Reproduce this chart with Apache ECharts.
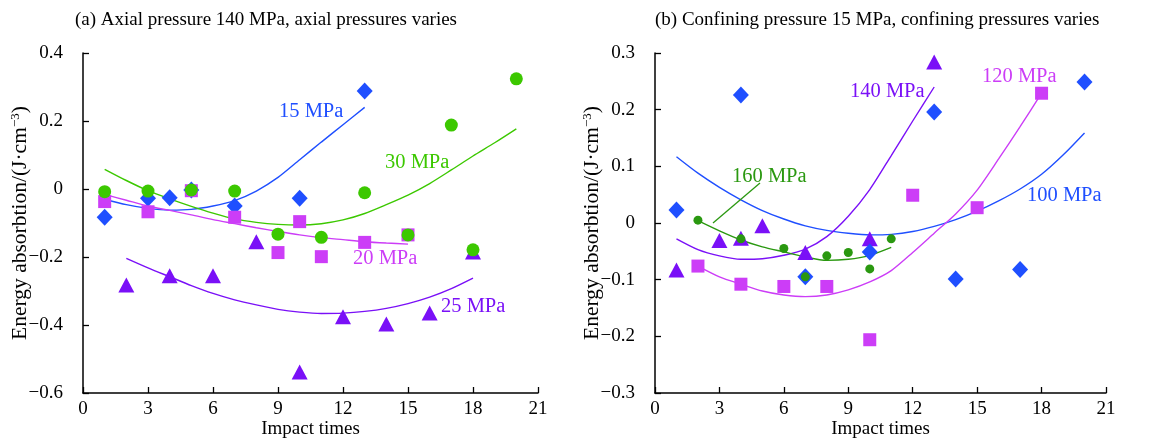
<!DOCTYPE html>
<html>
<head>
<meta charset="utf-8">
<script src="https://cdn.jsdelivr.net/npm/echarts@6/dist/echarts.min.js"></script>
<style>
  html, body { margin: 0; padding: 0; background: #fff; }
  #chart { width: 1160px; height: 440px; }
</style>
</head>
<body>
<div id="chart"></div>
<script>
// ---------- Panel (a): confining pressure varies ----------
const a15x = [1, 3, 4, 5, 7, 10, 13];
const a15y = [-0.083, -0.027, -0.026, -0.003, -0.050, -0.027, 0.288];
const a20x = [1, 3, 5, 7, 9, 10, 11, 13, 15];
const a20y = [-0.037, -0.067, -0.005, -0.083, -0.187, -0.096, -0.199, -0.157, -0.135];
const a25x = [2, 4, 6, 8, 10, 12, 14, 16, 18];
const a25y = [-0.282, -0.255, -0.255, -0.155, -0.538, -0.376, -0.397, -0.365, -0.185];
const a30x = [1, 3, 5, 7, 9, 11, 13, 15, 17, 18, 20];
const a30y = [-0.008, -0.006, -0.003, -0.006, -0.133, -0.142, -0.011, -0.135, 0.188, -0.179, 0.324];

// fitted trend curves, panel (a)
const fa15x = [1, 2, 3, 4, 5, 6, 7, 8, 9, 10, 11, 12, 13];
const fa15y = [-0.030, -0.046, -0.057, -0.062, -0.060, -0.050, -0.034, -0.006, 0.034, 0.086, 0.138, 0.189, 0.240];
const fa20x = [1, 2, 3, 4, 5, 6, 7, 8, 9, 10, 11, 12, 13, 14, 15];
const fa20y = [-0.016, -0.033, -0.050, -0.063, -0.076, -0.090, -0.102, -0.114, -0.125, -0.135, -0.143, -0.149, -0.155, -0.159, -0.162];
const fa25x = [2, 3, 4, 5, 6, 7, 8, 9, 10, 11, 12, 13, 14, 15, 16, 17, 18];
const fa25y = [-0.204, -0.232, -0.258, -0.284, -0.307, -0.326, -0.341, -0.354, -0.362, -0.366, -0.365, -0.360, -0.351, -0.337, -0.318, -0.293, -0.262];
const fa30x = [1, 2, 3, 4, 5, 6, 7, 8, 9, 10, 11, 12, 13, 14, 15, 16, 17, 18, 19, 20];
const fa30y = [0.058, 0.025, -0.005, -0.029, -0.051, -0.071, -0.088, -0.098, -0.104, -0.106, -0.102, -0.091, -0.072, -0.046, -0.018, 0.016, 0.056, 0.097, 0.136, 0.177];

// ---------- Panel (b): axial pressure varies ----------
const b100x = [1, 4, 7, 10, 13, 14, 17, 20];
const b100y = [0.023, 0.226, -0.095, -0.051, 0.196, -0.099, -0.082, 0.249];
const b120x = [2, 4, 6, 8, 10, 12, 15, 18];
const b120y = [-0.076, -0.108, -0.112, -0.112, -0.206, 0.049, 0.027, 0.229];
const b140x = [1, 3, 4, 5, 7, 10, 13];
const b140y = [-0.083, -0.031, -0.027, -0.005, -0.052, -0.028, 0.284];
const b160x = [2, 4, 6, 7, 8, 9, 10, 11];
const b160y = [0.005, -0.028, -0.045, -0.095, -0.058, -0.052, -0.081, -0.028];

// fitted trend curves, panel (b)
const fb100x = [1, 2, 3, 4, 5, 6, 7, 8, 9, 10, 11, 12, 13, 14, 15, 16, 17, 18, 19, 20];
const fb100y = [0.117, 0.088, 0.063, 0.041, 0.022, 0.007, -0.005, -0.013, -0.018, -0.021, -0.020, -0.015, -0.006, 0.006, 0.021, 0.039, 0.060, 0.086, 0.120, 0.159];
const fb120x = [2, 3, 4, 5, 6, 7, 8, 9, 10, 11, 12, 13, 14, 15, 16, 17, 18];
const fb120y = [-0.076, -0.095, -0.108, -0.120, -0.127, -0.130, -0.127, -0.118, -0.104, -0.084, -0.052, -0.018, 0.016, 0.058, 0.113, 0.170, 0.229];
const fb140x = [1, 2, 3, 4, 5, 6, 7, 8, 9, 10, 11, 12, 13];
const fb140y = [-0.028, -0.047, -0.058, -0.064, -0.063, -0.057, -0.046, -0.024, 0.012, 0.059, 0.119, 0.180, 0.240];
const fb160x = [2, 3, 4, 5, 6, 7, 8, 9, 10, 11];
const fb160y = [0.004, -0.014, -0.030, -0.042, -0.051, -0.060, -0.066, -0.064, -0.057, -0.043];

// axis ranges: [min, max, interval]
const xRange = [0, 21, 3];
const yRangeA = [-0.6, 0.4, 0.2];
const yRangeB = [-0.3, 0.3, 0.1];

const C = {
  blue: '#1f4fff',
  magenta: '#cc3df7',
  purple: '#7a10f7',
  green: '#3cc800',
  dgreen: '#2a9810'
};
const FONT = 'Liberation Serif';

const zip = (xs, ys) => xs.map((x, i) => [x, ys[i]]);

function pts(xs, ys, grid, symbol, size, color, z) {
  return {
    type: 'scatter', xAxisIndex: grid, yAxisIndex: grid,
    data: zip(xs, ys), symbol, symbolSize: size,
    itemStyle: { color, opacity: 1 }, z, silent: true
  };
}
function fit(xs, ys, grid, color) {
  return {
    type: 'line', xAxisIndex: grid, yAxisIndex: grid,
    data: zip(xs, ys), smooth: 0.25, symbol: 'none',
    lineStyle: { color, width: 1.4 }, z: 2, silent: true
  };
}

const tickFmt = v => (Math.abs(v) < 1e-9 ? '0' : v.toFixed(1).replace('-', '\u2212'));

function xAxis(grid) {
  return {
    type: 'value', gridIndex: grid, min: xRange[0], max: xRange[1], interval: xRange[2],
    name: 'Impact times', nameLocation: 'middle', nameGap: 27, nameMoveOverlap: false,
    nameTextStyle: { fontFamily: FONT, fontSize: 19, color: '#000' },
    axisLine: { onZero: false, lineStyle: { color: '#000', width: 1.5 } },
    axisTick: { inside: true, length: 6, lineStyle: { color: '#000', width: 1.3 } },
    axisLabel: { fontFamily: FONT, fontSize: 19, color: '#000', margin: 7 },
    splitLine: { show: false }
  };
}
function yAxis(grid, r) {
  return {
    type: 'value', gridIndex: grid, min: r[0], max: r[1], interval: r[2],
    name: 'Energy absorbtion/(J·cm{sup|\u22123})', nameLocation: 'middle', nameGap: 52,
    nameMoveOverlap: false, nameRotate: 90,
    nameTextStyle: {
      fontFamily: FONT, fontSize: 21.5, color: '#000',
      rich: { sup: { fontFamily: FONT, fontSize: 13, verticalAlign: 'top', color: '#000', padding: [0, 0, 9, 0] } }
    },
    axisLine: { show: true, onZero: false, lineStyle: { color: '#000', width: 1.5 } },
    axisTick: { show: true, inside: true, length: 6, lineStyle: { color: '#000', width: 1.3 } },
    axisLabel: { fontFamily: FONT, fontSize: 19, color: '#000', margin: 20, formatter: tickFmt },
    splitLine: { show: false }
  };
}

// curve labels, placed by their top-left corner
function txt(x, y, s, color) {
  return {
    type: 'text', left: x, top: y, silent: true,
    style: { text: s, fill: color, font: '20.5px "Liberation Serif"' }
  };
}

const option = {
  animation: false,
  backgroundColor: '#fff',
  title: [
    { text: '(a) Axial pressure 140 MPa, axial pressures varies', left: 70, top: 6,
      textStyle: { fontFamily: FONT, fontSize: 19, fontWeight: 'normal', color: '#000' } },
    { text: '(b) Confining pressure 15 MPa, confining pressures varies', left: 650, top: 6,
      textStyle: { fontFamily: FONT, fontSize: 19, fontWeight: 'normal', color: '#000' } }
  ],
  grid: [
    { left: 83, right: 622, top: 53, bottom: 47, containLabel: false, outerBoundsMode: 'none' },
    { left: 655, right: 54, top: 53, bottom: 47, containLabel: false, outerBoundsMode: 'none' }
  ],
  xAxis: [xAxis(0), xAxis(1)],
  yAxis: [yAxis(0, yRangeA), yAxis(1, yRangeB)],
  series: [
    fit(fa15x, fa15y, 0, C.blue),
    fit(fa20x, fa20y, 0, C.magenta),
    fit(fa25x, fa25y, 0, C.purple),
    fit(fa30x, fa30y, 0, C.green),
    pts(a15x, a15y, 0, 'diamond', [16, 17], C.blue, 3),
    pts(a25x, a25y, 0, 'triangle', [16, 15], C.purple, 4),
    pts(a20x, a20y, 0, 'rect', 13, C.magenta, 5),
    pts(a30x, a30y, 0, 'circle', 13, C.green, 6),

    fit(fb100x, fb100y, 1, C.blue),
    fit(fb120x, fb120y, 1, C.magenta),
    fit(fb140x, fb140y, 1, C.purple),
    fit(fb160x, fb160y, 1, C.dgreen),
    pts(b140x, b140y, 1, 'triangle', [16, 15], C.purple, 3),
    pts(b100x, b100y, 1, 'diamond', [16, 17], C.blue, 4),
    pts(b120x, b120y, 1, 'rect', 13, C.magenta, 5),
    pts(b160x, b160y, 1, 'circle', 9, C.dgreen, 6)
  ],
  graphic: [
    txt(279, 101, '15 MPa', C.blue),
    txt(385, 152, '30 MPa', C.green),
    txt(353, 248, '20 MPa', C.magenta),
    txt(441, 296, '25 MPa', C.purple),
    txt(732, 166, '160 MPa', C.dgreen),
    txt(850, 81, '140 MPa', C.purple),
    txt(982, 66, '120 MPa', C.magenta),
    txt(1027, 185, '100 MPa', C.blue),
    { type: 'line', silent: true, z: 10,
      shape: { x1: 760, y1: 183, x2: 713, y2: 223 },
      style: { stroke: C.dgreen, lineWidth: 1.3 } }
  ]
};

const chart = echarts.init(document.getElementById('chart'), null, { renderer: 'canvas' });
chart.setOption(option);
</script>
</body>
</html>
